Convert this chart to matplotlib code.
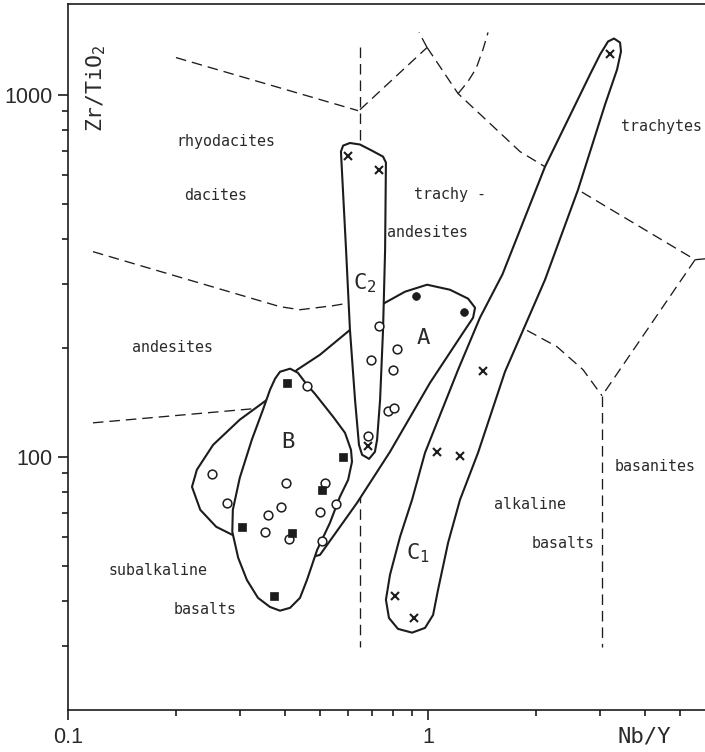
import matplotlib
matplotlib.use("Agg")
import matplotlib.pyplot as plt
from matplotlib.patches import Polygon
from matplotlib.ticker import NullFormatter

# ---------------- data (Nb/Y, Zr/TiO2) ----------------
open_x = [0.462, 0.251, 0.403, 0.516, 0.277, 0.390, 0.360, 0.554, 0.501, 0.352,
          0.411, 0.507, 0.731, 0.822, 0.695, 0.801, 0.776, 0.806, 0.682]
open_y = [157, 89.7, 84.6, 84.6, 74.5, 72.6, 69.1, 74.2, 70.4, 62.1,
          59.3, 58.7, 229, 198, 184.5, 174, 134, 136.8, 114.3]

square_x = [0.405, 0.579, 0.508, 0.304, 0.420, 0.373]
square_y = [160, 100, 81.1, 64.2, 61.8, 41.3]

dot_x = [0.926, 1.259]
dot_y = [278.5, 250.4]

cross_x = [0.601, 0.730, 3.20, 1.417, 1.057, 1.227, 0.810, 0.914, 0.682]
cross_y = [676, 619, 1296, 172.8, 103.2, 100.6, 41.3, 35.8, 107.2]

# envelopes
A_x = [0.221, 0.228, 0.253, 0.300, 0.357, 0.393, 0.433, 0.501, 0.607, 0.681, 0.760,
       0.863, 0.994, 1.151, 1.292, 1.351, 1.334, 1.251, 1.013, 0.784, 0.635, 0.501,
       0.441, 0.320, 0.286, 0.258, 0.233]
A_y = [82.6, 92.1, 107.9, 126.6, 143.7, 158.1, 173.9, 191.3, 224, 246.8, 266.3,
       285.6, 298.6, 289.2, 273.3, 258.0, 242.1, 220.0, 160.1, 103.2, 74.6, 53.6,
       51.9, 57.1, 60.9, 64.1, 71.4]

B_x = [0.388, 0.414, 0.435, 0.461, 0.485, 0.545, 0.588, 0.611, 0.615, 0.600, 0.569,
       0.534, 0.492, 0.461, 0.441, 0.414, 0.388, 0.364, 0.337, 0.314, 0.297, 0.286,
       0.287, 0.300, 0.324, 0.348, 0.364, 0.376]
B_y = [171.7, 175.1, 170.6, 158.1, 149.3, 129.0, 116.5, 104.5, 96.9, 86.4, 77.5,
       65.7, 55.3, 45.7, 40.8, 38.3, 37.6, 38.5, 40.8, 45.7, 52.6, 62.1,
       71.4, 87.5, 111.4, 134.9, 153.1, 164.3]

C2_x = [0.573, 0.581, 0.607, 0.647, 0.699, 0.750, 0.764, 0.760, 0.750, 0.736, 0.722,
        0.712, 0.686, 0.656, 0.643, 0.627, 0.607, 0.592]
C2_y = [696, 723, 735, 728, 700, 674, 649, 373, 224, 143.7, 111.4,
        103.2, 98.7, 101.3, 107.9, 143.7, 224, 373]

C1_x = [3.162, 3.286, 3.415, 3.436, 3.350, 3.102, 2.610, 2.113, 1.636, 1.377, 1.227,
        1.137, 1.066, 1.033, 0.981, 0.903, 0.825, 0.779, 0.764, 0.784, 0.836, 0.903,
        0.981, 1.212, 1.394, 1.610, 2.113, 2.818, 3.005]
C1_y = [1401, 1428, 1392, 1315, 1172, 938, 546, 308, 171.7, 102.6, 76.1,
        57.9, 42.9, 36.6, 33.7, 32.7, 33.5, 35.9, 40.3, 47.2, 60.1, 76.1,
        102.6, 173.9, 242.1, 319, 632, 1136, 1290]

# field boundaries (Winchester & Floyd)
b1_x = [0.1995, 0.639];               b1_y = [1265, 903]
v1_x = [0.647, 0.647];                v1_y = [1349, 29.9]
b2_x = [0.647, 0.994];                b2_y = [908, 1349]
b3_x = [0.994, 0.944];                b3_y = [1349, 1484]
b4_x = [0.994, 1.212, 1.801, 2.113, 2.610, 5.518, 5.88]
b4_y = [1349, 1006, 696, 632, 546, 350, 352]
b5_x = [1.212, 1.290, 1.360, 1.421, 1.468]
b5_y = [1006, 1085, 1180, 1331, 1484]
b6_x = [5.518, 3.043];                b6_y = [350, 147.4]
v2_x = [3.043, 3.043];                v2_y = [147.4, 29.9]
b7_x = [0.1173, 0.388, 0.441, 0.545, 0.588, 1.351, 1.394, 1.825, 2.282, 2.696, 3.043]
b7_y = [368.4, 259.7, 254.7, 261.3, 264.7, 242.1, 242.1, 227.2, 201.3, 173.9, 147.4]
b8_x = [0.1173, 0.326, 0.36];         b8_y = [124.1, 135.7, 137.5]

field_names = ["rhyodacites", "dacites", "andesites", "trachy -", "andesites",
               "trachytes", "subalkaline", "basalts", "alkaline", "basalts", "basanites"]
field_x = [0.2748, 0.2577, 0.1945, 1.151, 0.994, 4.438, 0.1778, 0.2402, 1.920, 2.371, 4.271]
field_y = [741.6, 526, 200, 529, 415.7, 815.6, 48.4, 38.0, 73.7, 57.5, 93.8]

group_names = ["A", "B", "C$_2$", "C$_1$"]
group_x = [0.968, 0.4084, 0.668, 0.938]
group_y = [213.2, 110.0, 300.6, 54.3]

xtick_vals = [0.1, 1]
xtick_labels = ["0.1", "1"]
xminor_vals = [0.2, 0.3, 0.4, 0.5, 0.6, 0.7, 0.8, 0.9, 2, 3, 4, 5]
ytick_vals = [100, 1000]
ytick_labels = ["100", "1000"]
yminor_vals = [30, 40, 50, 60, 70, 80, 90, 200, 300, 400, 500, 600, 700, 800, 900]

# ---------------- style ----------------
num_font = ["Liberation Sans", "DejaVu Sans"]
mono = ["DejaVu Sans Mono", "DejaVu Sans"]
plt.rcParams['mathtext.fontset'] = 'custom'
plt.rcParams['mathtext.rm'] = 'DejaVu Sans Mono'
plt.rcParams['mathtext.it'] = 'DejaVu Sans Mono'
plt.rcParams['mathtext.bf'] = 'DejaVu Sans Mono'

ink = '#1c1c1c'
txt = '#2a2a2a'

fig = plt.figure(figsize=(7.05, 7.52), dpi=100)
fig.patch.set_facecolor('white')
ax = fig.add_axes([68 / 705, 42 / 752, 637 / 705, 706.5 / 752])
ax.set_xscale('log')
ax.set_yscale('log')
ax.set_xlim(0.1, 5.88)
ax.set_ylim(20, 1784)

for s in ['left', 'bottom', 'top']:
    ax.spines[s].set_linewidth(1.2)
    ax.spines[s].set_color(ink)
ax.spines['right'].set_visible(False)

ax.set_xticks(xtick_vals, xtick_labels)
ax.set_xticks(xminor_vals, minor=True)
ax.set_yticks(ytick_vals, ytick_labels)
ax.set_yticks(yminor_vals, minor=True)
ax.xaxis.set_minor_formatter(NullFormatter())
ax.yaxis.set_minor_formatter(NullFormatter())
ax.tick_params(which='major', direction='out', length=7, width=1.2, color=ink,
               labelsize=15.5, labelcolor=txt)
ax.tick_params(which='minor', direction='out', length=4.5, width=1.2, color=ink)
ax.tick_params(axis='x', which='major', pad=5)
ax.tick_params(axis='y', which='major', pad=4)
for lab in ax.get_xticklabels() + ax.get_yticklabels():
    lab.set_family(num_font)

# dashed boundaries
dash_kw = dict(color=ink, lw=0.95, dashes=(8, 4.5), zorder=2, solid_capstyle='butt')
for bx, by in [(b1_x, b1_y), (v1_x, v1_y), (b2_x, b2_y), (b3_x, b3_y), (b4_x, b4_y),
               (b5_x, b5_y), (b6_x, b6_y), (v2_x, v2_y), (b7_x, b7_y), (b8_x, b8_y)]:
    ax.plot(bx, by, **dash_kw)

# envelopes
for (px, py, z) in [(A_x, A_y, 3), (B_x, B_y, 4), (C2_x, C2_y, 5), (C1_x, C1_y, 5)]:
    poly = Polygon(list(zip(px, py)), closed=True, facecolor='white', edgecolor=ink,
                   lw=1.5, joinstyle='round', zorder=z)
    ax.add_patch(poly)

# symbols
ax.plot(open_x, open_y, 'o', ms=6.3, mfc='white', mec=ink, mew=1.1, zorder=7, ls='none')
ax.plot(square_x, square_y, 's', ms=5.8, mfc=ink, mec=ink, mew=0.5, zorder=8, ls='none')
ax.plot(dot_x, dot_y, 'o', ms=5.6, mfc=ink, mec=ink, mew=0.5, zorder=8, ls='none')
ax.plot(cross_x, cross_y, 'x', ms=5.8, mec=ink, mew=1.5, zorder=8, ls='none')

# field labels
for name, fx, fy in zip(field_names, field_x, field_y):
    ax.text(fx, fy, name, ha='center', va='center', fontsize=10.8, family=mono,
            color=txt, zorder=9)

for name, gx, gy in zip(group_names, group_x, group_y):
    ax.text(gx, gy, name, ha='center', va='center', fontsize=16, family=mono,
            color=txt, zorder=9)

ax.text(0.044, 0.880, "Zr/TiO$_2$", rotation=90, ha='center', va='center',
        fontsize=15.5, family=mono, color=txt, transform=ax.transAxes)
ax.text(0.904, -0.038, "Nb/Y", ha='center', va='center', fontsize=16,
        family=mono, color=txt, transform=ax.transAxes, clip_on=False)

fig.savefig("out.png", dpi=100, facecolor='white')
